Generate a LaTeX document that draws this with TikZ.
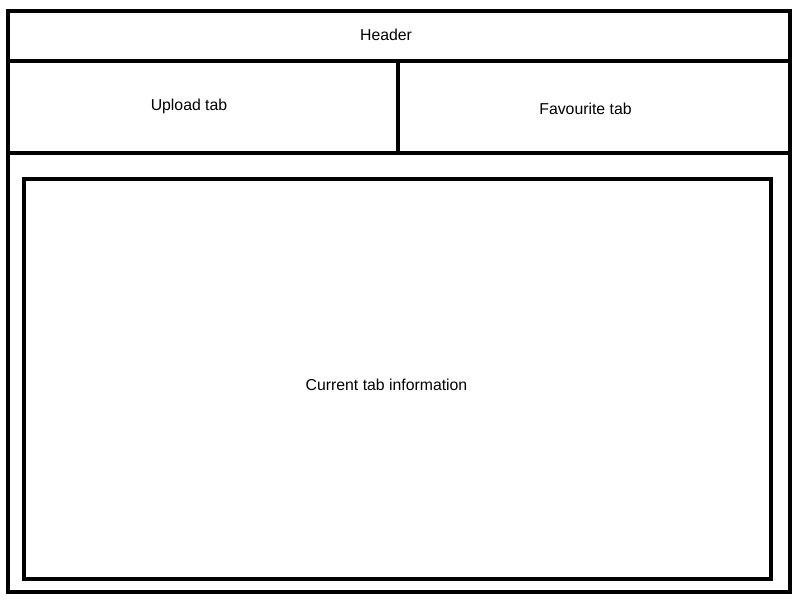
\documentclass[tikz,border=0pt]{standalone}
\usepackage{fontspec}
\setmainfont{Liberation Sans}
\begin{document}
\begin{tikzpicture}[x=1pt,y=-1pt,
  panel/.style={draw=black,line width=4pt,line join=miter},
  lbl/.style={font=\fontsize{15.8}{18}\selectfont,inner sep=0pt}]
\useasboundingbox[fill=white] (0,0) rectangle (800,600);
\coordinate (o1) at (8,11);
\coordinate (o2) at (790,592);
\draw[panel] (o1) rectangle (o2);
\draw[panel] (8,11) rectangle (790,61);
\draw[panel] (8,61) rectangle (398,153);
\draw[panel] (398,61) rectangle (790,153);
\draw[panel] (24,179) rectangle (771,579);
\node[lbl] (header) at (386,35) {Header};
\node[lbl] (upload) at (189,106) {Upload tab};
\node[lbl] (fav) at (585.5,109) {Favourite tab};
\node[lbl] (cur) at (386.5,385) {Current tab information};
\end{tikzpicture}
\end{document}
